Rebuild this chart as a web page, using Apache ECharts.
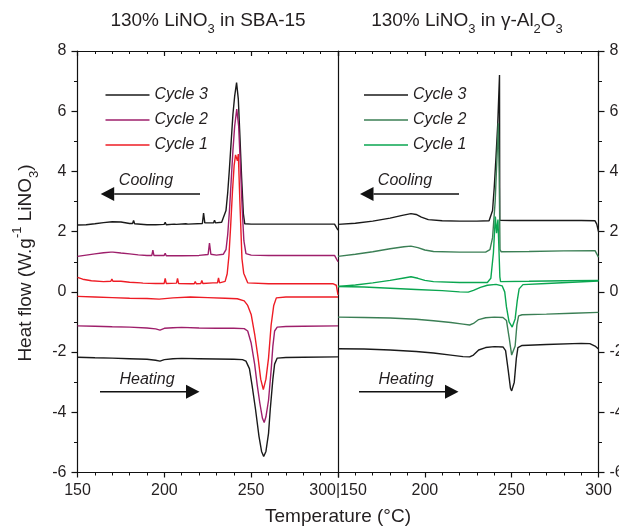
<!DOCTYPE html>
<html><head><meta charset="utf-8">
<script src="https://cdn.jsdelivr.net/npm/echarts@6/dist/echarts.min.js"></script>
<style>html,body{margin:0;padding:0;background:#fff}#c{width:619px;height:527px}</style>
</head><body><div id="c"></div>
<script>
// ---------- data (temperature °C, heat flow W/g) ----------
const xTickValues = [150, 200, 250, 300];
const yTickValues = [-6, -4, -2, 0, 2, 4, 6, 8];
const cycleNames = ['Cycle 3', 'Cycle 2', 'Cycle 1'];

// 130% LiNO3 in SBA-15
const sbaC3Cool = [[150,2.22],[155,2.23],[160,2.26],[165,2.3],[170,2.33],[175,2.32],[180,2.27],[181.7,2.27],[182.3,2.37],[182.9,2.26],[190,2.23],[195,2.23],[199.9,2.24],[200.5,2.31],[201.1,2.23],[205.7,2.25],[206.3,2.3],[206.9,2.24],[212.4,2.26],[213,2.31],[213.6,2.25],[221.9,2.27],[222.6,2.62],[223.3,2.29],[228.3,2.29],[228.9,2.38],[229.5,2.29],[233,2.31],[233.7,2.42],[234.5,2.42],[235.5,2.7],[236.5,3.3],[237.5,4.1],[238.5,5.0],[239.5,5.9],[240.5,6.5],[241.6,6.95],[242.6,6.4],[243.5,5.2],[244.5,3.8],[245.5,2.6],[246.3,2.26],[250,2.25],[270,2.25],[298,2.25],[299,2.2],[300,2.05]];
const sbaC3Heat = [[150,-2.17],[160,-2.19],[170,-2.2],[180,-2.22],[190,-2.24],[195,-2.27],[197.5,-2.3],[200,-2.25],[205,-2.22],[210,-2.21],[220,-2.22],[230,-2.23],[240,-2.24],[245,-2.25],[247,-2.3],[249,-2.55],[250.5,-3.1],[252.5,-3.9],[254.5,-4.8],[256,-5.3],[257.2,-5.47],[258.5,-5.3],[260,-4.7],[261,-3.9],[262.5,-2.9],[263.5,-2.4],[265,-2.2],[270,-2.18],[280,-2.17],[300,-2.16]];
const sbaC2Cool = [[150,1.18],[155,1.22],[160,1.26],[165,1.3],[169.2,1.32],[169.8,1.38],[170.4,1.32],[175,1.29],[180,1.26],[185,1.23],[190,1.21],[192.8,1.21],[193.4,1.39],[194,1.21],[199.9,1.21],[200.5,1.28],[201.1,1.2],[202.6,1.2],[203.2,1.26],[203.8,1.2],[210,1.2],[220,1.21],[225.2,1.24],[226,1.62],[226.8,1.25],[230,1.22],[234,1.25],[235.5,1.4],[236.5,1.9],[237.5,2.7],[238.5,3.7],[239.5,4.7],[240.5,5.5],[241.7,6.07],[242.8,5.5],[243.8,4.2],[244.8,2.8],[245.8,1.7],[247,1.27],[250,1.22],[260,1.21],[280,1.21],[298,1.21],[299,1.15],[300,1.0]];
const sbaC2Heat = [[150,-1.13],[160,-1.14],[170,-1.16],[180,-1.17],[190,-1.2],[195,-1.23],[197.5,-1.27],[200,-1.21],[205,-1.19],[210,-1.18],[220,-1.2],[230,-1.21],[240,-1.21],[246,-1.22],[248,-1.3],[250,-1.7],[252,-2.4],[253.5,-3.1],[255,-3.7],[256.5,-4.2],[257.5,-4.34],[258.5,-4.15],[260,-3.6],[261.5,-2.6],[262.5,-1.8],[263.5,-1.3],[265,-1.17],[270,-1.15],[280,-1.14],[300,-1.13]];
const sbaC1Cool = [[150,0.48],[153,0.42],[158,0.37],[165,0.34],[169.2,0.35],[169.8,0.43],[170.4,0.35],[175,0.35],[180,0.32],[186.5,0.3],[187.1,0.36],[187.7,0.29],[195,0.28],[199.9,0.28],[200.5,0.45],[201.1,0.28],[207,0.29],[207.6,0.45],[208.2,0.28],[215,0.27],[217.2,0.27],[217.8,0.34],[218.4,0.27],[221,0.28],[221.6,0.38],[222.2,0.28],[228,0.3],[230.6,0.3],[231.2,0.46],[231.8,0.3],[235,0.35],[236.2,0.6],[237.2,1.2],[238.2,2.2],[239.2,3.3],[240.2,4.2],[241,4.55],[241.6,4.6],[242.1,4.35],[242.6,4.58],[243.5,3.0],[244.7,1.1],[245.7,0.62],[248,0.3],[260,0.27],[280,0.27],[297,0.27],[299,0.22],[300,-0.1]];
const sbaC1Heat = [[150,-0.15],[160,-0.17],[170,-0.19],[180,-0.21],[190,-0.22],[197,-0.24],[205,-0.2],[215,-0.17],[225,-0.19],[235,-0.21],[242,-0.23],[246,-0.3],[248,-0.45],[250,-0.75],[252,-1.4],[254,-2.2],[255.5,-2.9],[257,-3.25],[258.5,-2.9],[260,-2.2],[261.5,-1.1],[263,-0.45],[264.5,-0.2],[270,-0.17],[300,-0.17]];

// 130% LiNO3 in γ-Al2O3
const aluC3Cool = [[150,2.24],[160,2.28],[170,2.35],[180,2.45],[187,2.54],[192,2.6],[195,2.57],[198,2.48],[202,2.4],[210,2.36],[220,2.35],[230,2.35],[237,2.36],[238,2.42],[239,2.7],[240,3.5],[241,4.5],[242,5.6],[243,7.2],[243.15,2.38],[250,2.37],[270,2.37],[290,2.37],[298,2.36],[299,2.25],[300,2.0]];
const aluC3Heat = [[150,-1.89],[165,-1.9],[180,-1.93],[195,-1.98],[205,-2.03],[215,-2.1],[222,-2.15],[225.8,-2.16],[228,-2.1],[231,-1.93],[235,-1.85],[240,-1.82],[245,-1.83],[246.5,-1.95],[248,-2.6],[249.3,-3.2],[250,-3.29],[251.5,-3.0],[252.7,-2.2],[253.6,-1.85],[256,-1.78],[270,-1.75],[290,-1.71],[295,-1.72],[298,-1.8],[300,-1.9]];
const aluC2Cool = [[150,1.18],[160,1.25],[170,1.33],[180,1.43],[188,1.5],[192,1.52],[196,1.47],[200,1.39],[205,1.34],[220,1.32],[235,1.32],[237.5,1.4],[239,1.8],[240.5,3.0],[241.5,4.4],[242.3,5.6],[242.8,4.0],[243.3,1.4],[244,1.33],[260,1.34],[280,1.36],[298,1.37],[300,1.15]];
const aluC2Heat = [[150,-0.84],[165,-0.85],[180,-0.87],[195,-0.91],[205,-0.96],[215,-1.02],[222,-1.07],[225.8,-1.1],[228,-1.05],[231,-0.92],[235,-0.86],[240,-0.84],[245,-0.85],[247,-0.95],[248.5,-1.5],[250,-2.1],[250.7,-2.15],[252,-1.8],[253,-1.1],[254,-0.8],[256,-0.76],[270,-0.74],[285,-0.71],[300,-0.68]];
const aluC1Cool = [[150,0.18],[160,0.23],[170,0.3],[180,0.38],[188,0.46],[192,0.5],[196,0.45],[200,0.38],[205,0.34],[220,0.31],[236,0.31],[238,0.45],[239.5,1.3],[240.6,2.5],[241.3,1.95],[242.1,2.4],[243.2,0.5],[243.6,0.34],[260,0.35],[280,0.37],[300,0.38]];
const aluC1Heat = [[150,0.18],[165,0.16],[180,0.12],[195,0.08],[210,0.04],[220,0.0],[225,-0.01],[228,0.05],[232,0.15],[236,0.22],[241,0.25],[244.5,0.2],[246,0.0],[247,-0.5],[248.5,-1.0],[250.3,-1.17],[252,-0.9],[253.2,-0.3],[254.3,0.1],[256.5,0.24],[270,0.28],[285,0.32],[300,0.36]];

// ---------- styling ----------
const FONT = 'Arial, "Liberation Sans", Helvetica, sans-serif';
const INK = '#231f20';
const AX = '#111111';
const colLeft = ['#1a1a1a', '#9e1f6b', '#ee1c25'];
const colRight = ['#1a1a1a', '#3b7f55', '#0aa650'];

function xAx(grid, pos, fmt) {
  return {
    type: 'value', gridIndex: grid, position: pos, min: xTickValues[0], max: xTickValues[xTickValues.length - 1], interval: 50,
    axisLine: { show: true, onZero: false, lineStyle: { color: AX, width: 1.2 } },
    axisTick: { show: true, inside: pos === 'top', length: 5, lineStyle: { color: AX, width: 1.2 } },
    minorTick: { show: true, splitNumber: 5, length: 3, lineStyle: { color: AX, width: 1 } },
    axisLabel: { show: !!fmt, formatter: fmt, fontSize: 16, color: INK, margin: 10, fontFamily: FONT, showMinLabel: true, showMaxLabel: true },
    splitLine: { show: false }, minorSplitLine: { show: false }
  };
}
function yAx(grid, pos, labels, ticks) {
  return {
    type: 'value', gridIndex: grid, position: pos, min: yTickValues[0], max: yTickValues[yTickValues.length - 1], interval: 2,
    axisLine: { show: true, onZero: false, lineStyle: { color: AX, width: 1.2 } },
    axisTick: { show: ticks, inside: false, length: 6, lineStyle: { color: AX, width: 1.2 } },
    minorTick: { show: ticks, splitNumber: 2, length: 3.5, lineStyle: { color: AX, width: 1 } },
    axisLabel: { show: labels, fontSize: 16, color: INK, margin: 11, fontFamily: FONT, showMinLabel: true, showMaxLabel: true },
    splitLine: { show: false }, minorSplitLine: { show: false }
  };
}
function ser(name, data, color, xi, yi) {
  return { type: 'line', name: name, data: data, xAxisIndex: xi, yAxisIndex: yi, color: color,
    showSymbol: false, symbol: 'none', smooth: false, clip: true,
    lineStyle: { color: color, width: 1.4 }, itemStyle: { color: color },
    emphasis: { disabled: true }, silent: true };
}

const leftSets = [[sbaC3Cool, sbaC3Heat], [sbaC2Cool, sbaC2Heat], [sbaC1Cool, sbaC1Heat]];
const rightSets = [[aluC3Cool, aluC3Heat], [aluC2Cool, aluC2Heat], [aluC1Cool, aluC1Heat]];
const series = [];
leftSets.forEach((s, i) => { series.push(ser(cycleNames[i], s[0], colLeft[i], 0, 0)); series.push(ser(cycleNames[i], s[1], colLeft[i], 0, 0)); });
rightSets.forEach((s, i) => { series.push(ser(cycleNames[i] + ' ', s[0], colRight[i], 1, 2)); series.push(ser(cycleNames[i] + ' ', s[1], colRight[i], 1, 2)); });

function legend(left, names) {
  return { show: true, orient: 'vertical', left: left, top: 80, itemWidth: 44, itemHeight: 1.5, itemGap: 5, icon: 'rect',
    selectedMode: false, data: names, formatter: n => n.trim(),
    textStyle: { fontSize: 16, fontStyle: 'italic', color: INK, fontFamily: FONT, lineHeight: 20 } };
}

const richSub = { s: { fontSize: 13, lineHeight: 12, verticalAlign: 'bottom', fontFamily: FONT, fill: INK },
                  p: { fontSize: 13, lineHeight: 18, verticalAlign: 'top', fontFamily: FONT, fill: INK } };
function txt(x, y, text, size, opts) {
  return Object.assign({ type: 'text', x: x, y: y, silent: true,
    style: Object.assign({ text: text, fontSize: size, fontFamily: FONT, fill: INK, align: 'center', verticalAlign: 'middle', lineHeight: 30, rich: richSub }, (opts && opts.style) || {}) },
    (opts && opts.el) || {});
}
function arrow(x1, x2, y, leftTip) {
  const tip = leftTip ? x1 : x2;
  const base = leftTip ? x1 + 13.5 : x2 - 13.5;
  return { type: 'group', silent: true, children: [
    { type: 'line', shape: { x1: leftTip ? base : x1, y1: y, x2: leftTip ? x2 : base, y2: y }, style: { stroke: '#111', lineWidth: 1.6 } },
    { type: 'polygon', shape: { points: [[tip, y], [base, y - 7], [base, y + 7]] }, style: { fill: '#111' } }
  ] };
}

const option = {
  animation: false,
  backgroundColor: '#fff',
  grid: [
    { left: 77.5, top: 51, width: 260.5, height: 421.5, outerBoundsMode: 'none', containLabel: false },
    { left: 338, top: 51, width: 260.5, height: 421.5, outerBoundsMode: 'none', containLabel: false }
  ],
  xAxis: [
    xAx(0, 'bottom', v => (v === 300 ? '' : String(v))),
    xAx(1, 'bottom', v => (v === 150 ? '300|150' : String(v))),
    xAx(0, 'top', null),
    xAx(1, 'top', null)
  ],
  yAxis: [
    yAx(0, 'left', true, true),
    yAx(0, 'right', false, false),
    yAx(1, 'right', true, true)
  ],
  legend: [legend(100.5, cycleNames), legend(359, cycleNames.map(n => n + ' '))],
  series: series,
  graphic: [
    txt(208, 21, '130% LiNO{s|3} in SBA-15', 19),
    txt(467, 21, '130% LiNO{s|3} in γ-Al{s|2}O{s|3}', 19),
    txt(338, 517, 'Temperature (°C)', 19),
    txt(26, 263, 'Heat flow (W.g{p|-1} LiNO{s|3})', 19, { el: { rotation: Math.PI / 2 } }),
    txt(146, 181, 'Cooling', 16, { style: { fontStyle: 'italic' } }),
    txt(405, 181, 'Cooling', 16, { style: { fontStyle: 'italic' } }),
    txt(147, 380, 'Heating', 16, { style: { fontStyle: 'italic' } }),
    txt(406, 380, 'Heating', 16, { style: { fontStyle: 'italic' } }),
    arrow(100.7, 200, 194, true),
    arrow(360, 459, 194, true),
    arrow(100, 199.5, 391.7, false),
    arrow(359, 458.5, 391.7, false)
  ]
};
const chart = echarts.init(document.getElementById('c'), null, { renderer: 'canvas', width: 619, height: 527 });
chart.setOption(option);
</script>
</body></html>
